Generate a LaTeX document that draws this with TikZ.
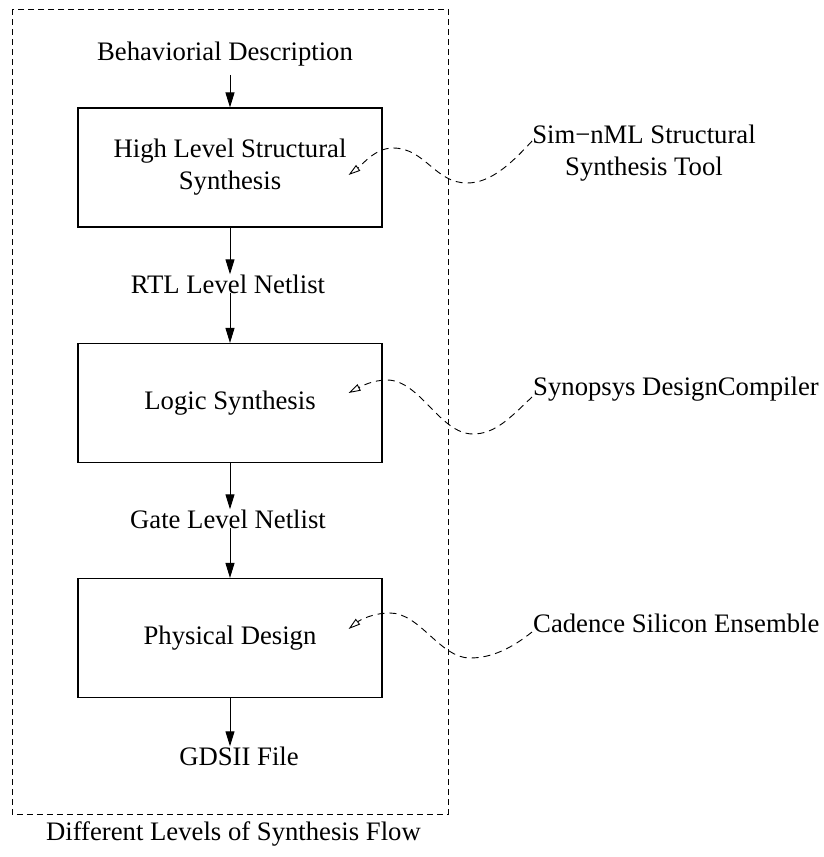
\documentclass[tikz,border=0pt]{standalone}
\usepackage{fontspec}
\setmainfont{Liberation Serif}
\usetikzlibrary{arrows.meta,calc}
\begin{document}
\begin{tikzpicture}[x=1pt,y=-1pt,
  every node/.style={font=\fontsize{26.7}{32}\selectfont, inner sep=0pt},
  stage/.style={draw, line width=1.1pt, minimum width=304pt, minimum height=119pt, align=center},
  flow/.style={-{Triangle[length=15pt,width=9pt]}, line width=1pt},
  toollink/.style={dash pattern=on 7pt off 5pt, line width=0.9pt, -{Triangle[open,length=12pt,width=7pt]}},
  frame/.style={dash pattern=on 6pt off 4pt, line width=0.9pt}]
\useasboundingbox (0,0) rectangle (824,857);

% synthesis flow
\node (beh) [anchor=base] at (225,60) {Behaviorial Description};
\node[stage] (hls) at (230,167.5) {High Level Structural\\Synthesis};
\node (rtl) [anchor=base] at (228,293) {RTL Level Netlist};
\node[stage] (ls) at (230,403) {Logic Synthesis};
\node (gate) [anchor=base] at (228,528) {Gate Level Netlist};
\node[stage] (pd) at (230,638) {Physical Design};
\node (gds) [anchor=base] at (239,765) {GDSII File};
\node (cap) [anchor=base] at (233.5,840) {Different Levels of Synthesis Flow};

% surrounding frame
\draw[frame] (12,9) rectangle (448,814);

% flow arrows
\draw[flow] ($(hls.north |- beh.south)+(0,9)$) -- (hls.north);
\draw[flow] (hls.south) -- (hls.south |- rtl.north);
\draw[flow] (ls.north |- rtl.base) -- (ls.north);
\draw[flow] (ls.south) -- (ls.south |- gate.north);
\draw[flow] (pd.north |- gate.base) -- (pd.north);
\draw[flow] (pd.south) -- (pd.south |- gds.north);

% tools
\node (sim) [anchor=north, align=center] at (644,125) {Sim−nML Structural\\Synthesis Tool};
\node (syn) [anchor=base west] at (533,395) {Synopsys DesignCompiler};
\node (cad) [anchor=base west] at (533,632) {Cadence Silicon Ensemble};

\coordinate (hlsin) at ($(hls.east)+(-34,7.5)$);
\coordinate (lsin) at ($(ls.east)+(-34,-10)$);
\coordinate (pdin) at ($(pd.east)+(-34,-9)$);

\draw[toollink] ($(sim.north west)+(0,16)$) .. controls (510,165) and (490,183) .. (467,183)
  .. controls (435,183) and (425,148) .. (393,148)
  .. controls (375,148) and (362,165) .. (hlsin);
\draw[toollink] ($(syn.base west)+(-1,2)$) .. controls (510,418) and (495,434) .. (473,434)
  .. controls (440,434) and (420,380) .. (387,380)
  .. controls (372,380) and (360,387) .. (lsin);
\draw[toollink] ($(cad.base west)+(-1,0)$) .. controls (512,648) and (492,658) .. (470,658)
  .. controls (440,658) and (420,613) .. (390,613)
  .. controls (373,613) and (360,620) .. (pdin);
\end{tikzpicture}
\end{document}
